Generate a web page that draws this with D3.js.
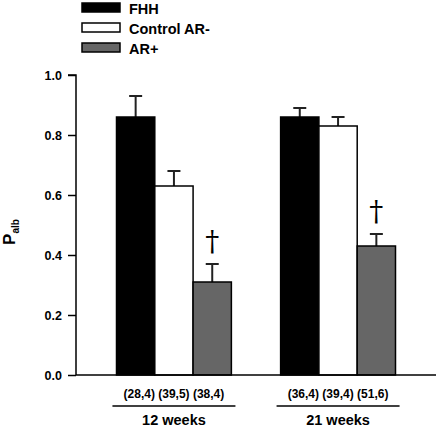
<!DOCTYPE html>
<html><head><meta charset="utf-8">
<script src="https://cdn.jsdelivr.net/npm/d3@7"></script>
<style>body{margin:0;background:#fff}svg{display:block}text{font-family:"Liberation Sans",Arial,sans-serif;font-weight:bold}</style>
</head><body>
<svg id="c" width="438" height="428"></svg>
<script>
const groups = ["12 weeks", "21 weeks"];
const series = ["FHH", "Control AR-", "AR+"];
const colors = ["#000000", "#ffffff", "#666666"];
const means12 = [0.86, 0.63, 0.31];
const errs12 = [0.07, 0.05, 0.06];
const means21 = [0.86, 0.83, 0.43];
const errs21 = [0.03, 0.03, 0.04];
const nLabels = ["(28,4) (39,5) (38,4)", "(36,4) (39,4) (51,6)"];
const dagger = [false, false, true];
const yTicks = [0, 0.2, 0.4, 0.6, 0.8, 1.0];

const svg = d3.select("#c");
const y = d3.scaleLinear().domain([0, 1]).range([375, 75]);
const x0 = d3.scaleBand().domain(groups).range([116.5, 395.5]).paddingInner(0.3).paddingOuter(0);
const x1 = d3.scaleBand().domain(series).range([0, x0.bandwidth()]);

const data = [means12, means21].map((m, gi) => m.map((v, si) => ({
  g: groups[gi], s: series[si], v, e: [errs12, errs21][gi][si], c: colors[si], d: dagger[si]
})));

const gs = svg.selectAll("g.grp").data(data).join("g").attr("class", "grp")
  .attr("transform", (d, i) => `translate(${x0(groups[i])},0)`);

gs.selectAll("g.err").data(d => d).join("g").attr("class", "err").each(function(d) {
  const cx = x1(d.s) + x1.bandwidth() / 2;
  const g = d3.select(this);
  g.append("line").attr("x1", cx).attr("x2", cx).attr("y1", y(d.v)).attr("y2", y(d.v + d.e))
    .attr("stroke", "#222").attr("stroke-width", 2);
  g.append("line").attr("x1", cx - 6.5).attr("x2", cx + 6.5).attr("y1", y(d.v + d.e)).attr("y2", y(d.v + d.e))
    .attr("stroke", "#222").attr("stroke-width", 2);
  if (d.d) {
    g.append("text").attr("x", cx).attr("y", y(d.v + d.e) - 13).attr("text-anchor", "middle")
      .attr("font-size", 28).style("font-family", "'DejaVu Serif',serif").style("font-weight", "normal")
      .text("†");
  }
});

gs.selectAll("rect").data(d => d).join("rect")
  .attr("x", d => x1(d.s)).attr("width", x1.bandwidth())
  .attr("y", d => y(d.v)).attr("height", d => y(0) - y(d.v))
  .attr("fill", d => d.c).attr("stroke", "#000").attr("stroke-width", 1.5);

const yAxis = d3.axisLeft(y).tickValues(yTicks).tickFormat(d3.format(".1f")).tickSize(8).tickPadding(6);
const ya = svg.append("g").attr("transform", "translate(76,0)").call(yAxis);
ya.select(".domain").attr("d", "M-8,75H0V375").attr("stroke", "#000").attr("stroke-width", 1.5);
ya.selectAll(".tick line").attr("stroke", "#000").attr("stroke-width", 1.5);
ya.selectAll(".tick text").attr("font-size", 12.5).style("font-weight", "bold").attr("fill", "#000")
  .style("font-family", "'Liberation Sans',Arial,sans-serif");

svg.append("line").attr("x1", 76).attr("x2", 436).attr("y1", y(0)).attr("y2", y(0))
  .attr("stroke", "#000").attr("stroke-width", 1.5);

groups.forEach((g, i) => {
  const cx = x0(g) + x0.bandwidth() / 2;
  svg.append("text").attr("x", cx).attr("y", 398).attr("text-anchor", "middle")
    .attr("font-size", 12).text(nLabels[i]);
  svg.append("line").attr("x1", cx - 61.5).attr("x2", cx + 61.5).attr("y1", 406).attr("y2", 406)
    .attr("stroke", "#000").attr("stroke-width", 1.5);
  svg.append("text").attr("x", cx).attr("y", 425).attr("text-anchor", "middle")
    .attr("font-size", 14.5).text(g);
});

const yl = svg.append("text").attr("transform", "translate(15,232) rotate(-90)").attr("text-anchor", "middle");
yl.append("tspan").attr("font-size", 17).text("P");
yl.append("tspan").attr("font-size", 10).attr("dy", 4).text("alb");

const lg = svg.selectAll("g.leg").data(series).join("g").attr("class", "leg")
  .attr("transform", (d, i) => `translate(82,${3 + i * 20})`);
lg.append("rect").attr("width", 38).attr("height", 9).attr("fill", (d, i) => colors[i])
  .attr("stroke", "#000").attr("stroke-width", 1.5);
lg.append("text").attr("x", 47).attr("y", 11).attr("font-size", 14.5).text(d => d);
</script>
</body></html>
